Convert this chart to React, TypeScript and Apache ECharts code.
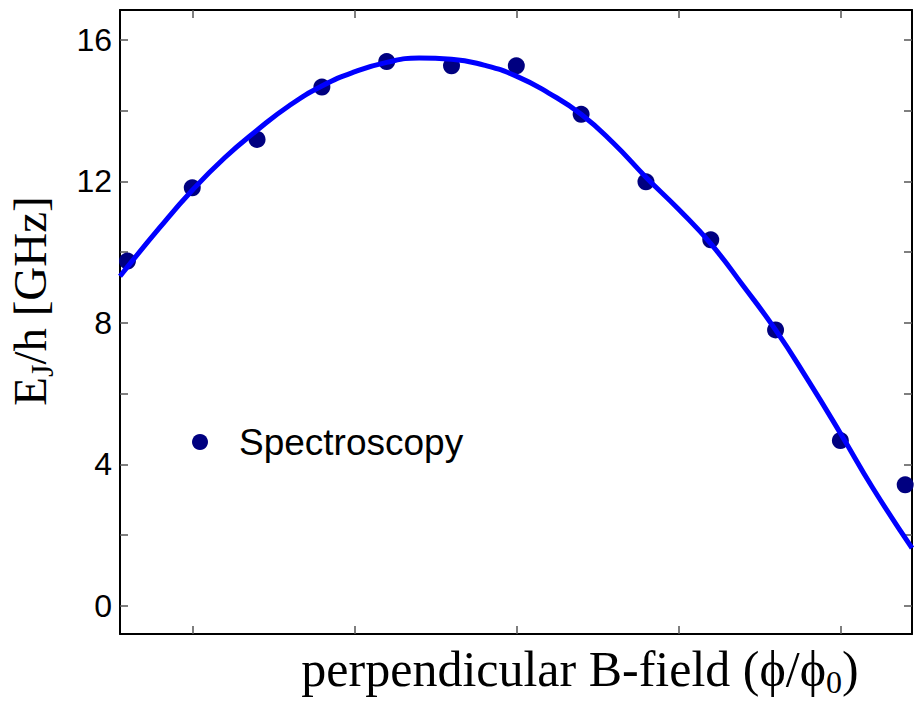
import React, { useEffect, useRef } from "react";
import * as echarts from "echarts";

// Measured spectroscopy points: flux position and Josephson energy (GHz)
const fluxPoints = [0.3, 0.5, 0.7, 0.9, 1.1, 1.3, 1.5, 1.7, 1.9, 2.1, 2.3, 2.5, 2.7];
const spectroscopy = [9.75, 11.82, 13.19, 14.67, 15.39, 15.27, 15.27, 13.9, 11.99, 10.35, 7.8, 4.67, 3.42];

// Fitted curve through the data
const fitFlux = [0.277, 0.4, 0.5, 0.6, 0.7, 0.8, 0.9, 1.0, 1.1, 1.2, 1.3, 1.4, 1.5, 1.6, 1.7, 1.8, 1.9, 2.0, 2.1, 2.2, 2.3, 2.4, 2.5, 2.6, 2.721];
const fitEnergy = [9.32, 10.7, 11.75, 12.67, 13.45, 14.15, 14.7, 15.1, 15.37, 15.49, 15.46, 15.29, 14.98, 14.5, 13.9, 13.08, 12.12, 11.22, 10.24, 9.05, 7.8, 6.38, 4.88, 3.33, 1.63];

// Axis ticks
const xTicks = [0.5, 1.0, 1.5, 2.0, 2.5];
const yTicks = [0, 2, 4, 6, 8, 10, 12, 14, 16];
const yTickLabels = [0, 4, 8, 12, 16];

const SANS = "'Liberation Sans', Arial, sans-serif";
const SERIF = "'Liberation Serif', 'Times New Roman', serif";

export default function App() {
  const ref = useRef<HTMLDivElement>(null);

  useEffect(() => {
    if (!ref.current) return;
    const chart = echarts.init(ref.current, undefined, { renderer: "svg" });

    const frameLine = { show: true, onZero: false, lineStyle: { color: "#000", width: 2 } };
    const tickStyle = { color: "#555", width: 1.5 };

    chart.setOption({
      animation: false,
      backgroundColor: "#fff",
      grid: { left: 120, right: 2, top: 10, bottom: 70, containLabel: false, outerBoundsMode: "none" },
      legend: {
        left: 187,
        top: 418,
        icon: "circle",
        itemWidth: 16,
        itemHeight: 16,
        data: ["Spectroscopy"],
        selectedMode: false,
        textStyle: {
          fontFamily: SANS,
          fontSize: 37,
          color: "#000",
          lineHeight: 38,
          padding: [0, 0, 0, 26],
        },
      },
      xAxis: [
        {
          type: "value",
          position: "bottom",
          min: 0.277,
          max: 2.721,
          axisLine: frameLine,
          axisTick: { show: true, inside: true, length: 8, lineStyle: tickStyle, customValues: xTicks },
          axisLabel: { show: false },
          splitLine: { show: false },
          name: "perpendicular B-field ({a|ϕ}/{a|ϕ}{s|0})",
          nameLocation: "middle",
          nameGap: 6,
          nameTextStyle: {
            fontFamily: SERIF,
            fontSize: 50,
            color: "#000",
            padding: [0, 0, 0, 128],
            verticalAlign: "top",
            rich: {
              a: { fontFamily: SERIF, fontSize: 50, color: "#000" },
              s: { fontFamily: SERIF, fontSize: 32, color: "#000", verticalAlign: "bottom", padding: [26, 0, 0, 0] },
            },
          },
        },
        {
          type: "value",
          position: "top",
          min: 0.277,
          max: 2.721,
          axisLine: frameLine,
          axisTick: { show: true, inside: true, length: 8, lineStyle: tickStyle, customValues: xTicks },
          axisLabel: { show: false },
          splitLine: { show: false },
        },
      ],
      yAxis: [
        {
          type: "value",
          position: "left",
          min: -0.8,
          max: 16.85,
          axisLine: frameLine,
          axisTick: { show: true, inside: true, length: 8, lineStyle: tickStyle, customValues: yTicks },
          axisLabel: {
            show: true,
            fontFamily: SANS,
            fontSize: 32,
            color: "#000",
            margin: 8,
            customValues: yTickLabels,
          },
          splitLine: { show: false },
          name: "E{s|J}/h [GHz]",
          nameLocation: "middle",
          nameRotate: 90,
          nameGap: 62,
          nameTextStyle: {
            fontFamily: SERIF,
            fontSize: 47,
            color: "#000",
            padding: [0, 0, 0, 42],
            rich: {
              s: { fontFamily: SERIF, fontSize: 32, color: "#000", padding: [24, 0, 0, 0] },
            },
          },
        },
        {
          type: "value",
          position: "right",
          min: -0.8,
          max: 16.85,
          axisLine: frameLine,
          axisTick: { show: true, inside: true, length: 8, lineStyle: tickStyle, customValues: yTicks },
          axisLabel: { show: false },
          splitLine: { show: false },
        },
      ],
      series: [
        {
          name: "Spectroscopy",
          type: "scatter",
          xAxisIndex: 0,
          yAxisIndex: 0,
          symbol: "circle",
          symbolSize: 17,
          itemStyle: { color: "#000080", opacity: 1 },
          data: fluxPoints.map((x, i) => [x, spectroscopy[i]]),
          z: 2,
        },
        {
          name: "Fit",
          type: "line",
          xAxisIndex: 0,
          yAxisIndex: 0,
          smooth: true,
          showSymbol: false,
          symbol: "none",
          lineStyle: { color: "#0000ff", width: 5 },
          data: fitFlux.map((x, i) => [x, fitEnergy[i]]),
          z: 3,
        },
      ],
    });

    return () => chart.dispose();
  }, []);

  return (
    <div
      ref={ref}
      style={{ position: "fixed", left: 0, top: 0, width: 914, height: 704, background: "#fff" }}
    />
  );
}
